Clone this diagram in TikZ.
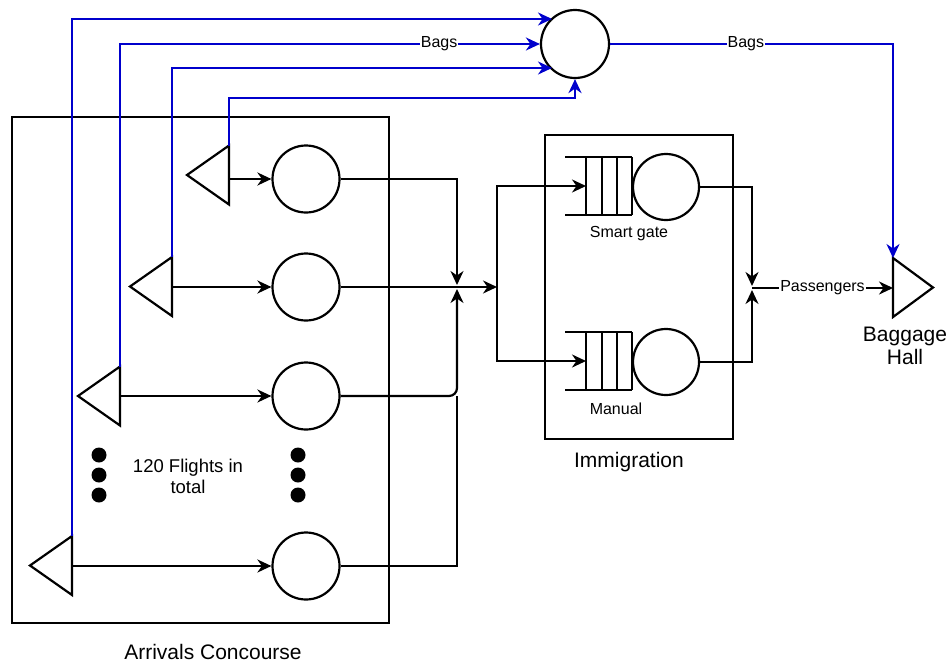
\documentclass[tikz,border=0pt]{standalone}
\usepackage{fontspec}
\setmainfont{Liberation Sans}
\usetikzlibrary{arrows.meta}
\definecolor{bagblue}{RGB}{0,0,204}
\begin{document}
\begin{tikzpicture}[x=1pt,y=-1pt,line width=2.2pt,
  arr/.style={-{Stealth[length=14pt,width=13pt,inset=4.5pt]}},
  bag/.style={draw=bagblue,arr},
  srv/.style={circle,draw,minimum size=67pt,inner sep=0pt},
  big/.style={font=\fontsize{21}{23.5}\selectfont,align=center,inner sep=0pt},
  small/.style={font=\fontsize{16}{18}\selectfont,inner sep=1pt},
  lbl/.style={small,fill=white},
  dot/.style={circle,fill,minimum size=15pt,inner sep=0pt}]
\useasboundingbox (0,0) rectangle (952,664);

% boxes
\draw (12,117) rectangle (389,623);
\draw (545,135) rectangle (733,439);
\node[big] (arrlbl) at (213,652) {Arrivals Concourse};
\node[big] (immlbl) at (629,462) {Immigration};

% flight triangles (pointing left)
\draw (229,145.5) -- (229,204.5) -- (187,175) -- cycle;
\draw (172,257) -- (172,316) -- (130,286.5) -- cycle;
\draw (120,366.5) -- (120,425.5) -- (78,396) -- cycle;
\draw (72,536) -- (72,595) -- (30,565.5) -- cycle;
\coordinate (t1top) at (229,145.5);
\coordinate (t2top) at (172,257);
\coordinate (t3top) at (120,366.5);
\coordinate (t4top) at (72,536);
\coordinate (t1) at (229,179);
\coordinate (t2) at (172,287);
\coordinate (t3) at (120,396);
\coordinate (t4) at (72,566);

% servers
\node[srv] (c1) at (306,179) {};
\node[srv] (c2) at (306,287) {};
\node[srv] (c3) at (306,396) {};
\node[srv] (c4) at (306,566) {};

\draw[arr] (t1) -- (c1.west);
\draw[arr] (t2) -- (c2.west);
\draw[arr] (t3) -- (c3.west);
\draw[arr] (t4) -- (c4.west);

% dots and text
\node[dot] (d1) at (99,455) {};
\node[dot] (d2) at (99,475) {};
\node[dot] (d3) at (99,495) {};
\node[dot] (d4) at (298,455) {};
\node[dot] (d5) at (298,475) {};
\node[dot] (d6) at (298,495) {};
\node[font=\fontsize{18.5}{21}\selectfont,align=center,inner sep=0pt] (flt) at (188,476) {120 Flights in\\total};

% merge into immigration
\coordinate (mtop) at (457,285);
\coordinate (mbot) at (457,289);
\coordinate (jn) at (457,396);
\coordinate (split) at (497,287);
\draw[arr] (c1.east) -| (mtop);
\draw[arr,rounded corners=8pt] (c3.east) -| (mbot);
\draw (c4.east) -| (jn);
\draw[arr] (c2.east) -- (split);

% queues
\foreach \y/\n in {157/sg,332/mn}{
  \draw (565,\y) -- (632,\y) (565,\y+58) -- (632,\y+58);
  \foreach \x in {586,602,617,632} \draw (\x,\y) -- (\x,\y+58);
}
\coordinate (sgq) at (586,186);
\coordinate (mnq) at (586,361);
\node[srv,minimum size=66pt] (sg) at (666,187) {};
\node[srv,minimum size=66pt] (mn) at (666,362) {};
\node[small] (sglbl) at (629,234) {Smart gate};
\node[small] (mnlbl) at (616,409) {Manual};
\draw[arr] (split) |- (sgq);
\draw[arr] (split) |- (mnq);

% passengers to baggage hall
\coordinate (ptop) at (752,286);
\coordinate (pbot) at (752,290);
\coordinate (pm) at (752,288);
\draw[arr] (sg.east) -| (ptop);
\draw[arr] (mn.east) -| (pbot);
\draw (893,258) -- (893,317) -- (933,287.5) -- cycle;
\coordinate (bhtop) at (893,258);
\coordinate (bh) at (893,288);
\draw[arr] (pm) -- node[lbl] {Passengers} (bh);
\node[big] (bhlbl) at (905,346) {Baggage\\Hall};

% bags
\node[circle,draw,minimum size=68pt,inner sep=0pt] (mc) at (575,44) {};
\coordinate (mc4) at (552,19);
\coordinate (mc2) at (552,68);
\draw[bag] (t4top) |- (mc4);
\draw[bag] (t3top) |- node[lbl,pos=0.88] {Bags} (mc.west);
\draw[bag] (t2top) |- (mc2);
\draw[bag] (t1top) -- (229,98) -| (mc.south);
\draw[bag] (mc.east) -| node[lbl,pos=0.24] {Bags} (bhtop);
\end{tikzpicture}
\end{document}
